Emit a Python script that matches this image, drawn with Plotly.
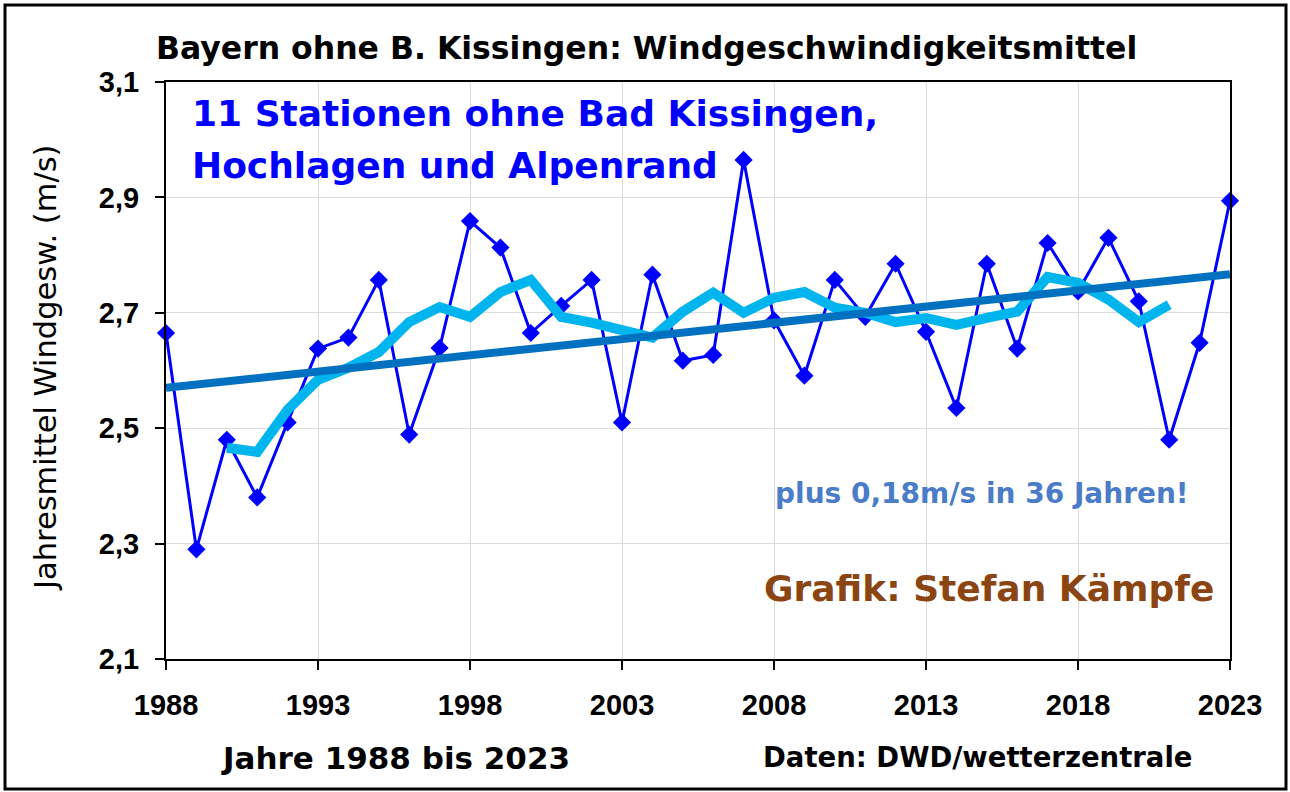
import plotly.graph_objects as go

years = list(range(1988, 2024))
wind = [2.665, 2.29, 2.48, 2.38, 2.51, 2.638, 2.657, 2.757, 2.489, 2.639,
        2.859, 2.813, 2.665, 2.712, 2.757, 2.51, 2.766, 2.617, 2.627, 2.965,
        2.687, 2.591, 2.757, 2.693, 2.785, 2.667, 2.535, 2.785, 2.638, 2.821,
        2.737, 2.83, 2.72, 2.48, 2.648, 2.894]

smooth_years = list(range(1990, 2022))
smooth = [2.466, 2.459, 2.532, 2.584, 2.605, 2.632, 2.684, 2.71, 2.693, 2.736,
          2.757, 2.693, 2.683, 2.671, 2.657, 2.702, 2.735, 2.70, 2.726, 2.736,
          2.709, 2.70, 2.684, 2.691, 2.679, 2.691, 2.702, 2.762, 2.752, 2.723,
          2.684, 2.714]

trend_years = [1988, 2023]
trend = [2.570, 2.767]

x_ticks = [1988, 1993, 1998, 2003, 2008, 2013, 2018, 2023]
y_ticks = [2.1, 2.3, 2.5, 2.7, 2.9, 3.1]

ARIAL = "Arial, Liberation Sans, sans-serif"
WIDE = "DejaVu Sans, Verdana, sans-serif"
L, R, T, B = 166, 1230, 82, 659
W, H = R - L, B - T


def px(x):
    return (x - L) / W


def py(y):
    return (B - y) / H


fig = go.Figure()
fig.add_trace(go.Scatter(x=years, y=wind, mode="lines+markers",
                         line=dict(color="#0000FF", width=3),
                         marker=dict(symbol="diamond", size=14, color="#0000FF"),
                         showlegend=False, cliponaxis=False))
fig.add_trace(go.Scatter(x=smooth_years, y=smooth, mode="lines",
                         line=dict(color="#00B4EE", width=10),
                         showlegend=False))
fig.add_trace(go.Scatter(x=trend_years, y=trend, mode="lines",
                         line=dict(color="#0070C0", width=8),
                         showlegend=False, cliponaxis=False))

tickfont = dict(size=29, family=ARIAL, weight="bold", color="black")
fig.update_layout(
    width=1290, height=792,
    margin=dict(l=L, r=1290 - R, t=T, b=792 - B),
    paper_bgcolor="white", plot_bgcolor="white",
    separators=",.",
    font=dict(family=ARIAL, color="black"),
    xaxis=dict(range=[1988, 2023], tickvals=x_ticks, ticks="outside", ticklen=9,
               tickwidth=2, tickcolor="black", showline=True, linecolor="black",
               linewidth=2, mirror=True, showgrid=True, gridcolor="#DCDCDC",
               gridwidth=1, zeroline=False, ticklabelstandoff=10,
               tickfont=tickfont),
    yaxis=dict(range=[2.1, 3.1], tickvals=y_ticks, tickformat=".1f", ticks="outside",
               ticklen=9, tickwidth=2, tickcolor="black", showline=True,
               linecolor="black", linewidth=2, mirror=True, showgrid=True,
               gridcolor="#DCDCDC", gridwidth=1, zeroline=False,
               ticklabelstandoff=10, tickfont=tickfont),
)

# outer frame
fig.add_shape(type="rect", xref="paper", yref="paper",
              x0=px(5), x1=px(1286), y0=py(789), y1=py(5),
              line=dict(color="black", width=3))

ann = [
    dict(text="Bayern ohne B. Kissingen: Windgeschwindigkeitsmittel",
         x=px(646), y=py(48), xanchor="center", yanchor="middle",
         font=dict(size=31.5, family=WIDE, color="black", weight="bold")),
    dict(text="11 Stationen ohne Bad Kissingen,",
         x=px(190), y=py(113), xanchor="left", yanchor="middle",
         font=dict(size=36, family=WIDE, color="#0000FF", weight="bold")),
    dict(text="Hochlagen und Alpenrand",
         x=px(190), y=py(165), xanchor="left", yanchor="middle",
         font=dict(size=36, family=WIDE, color="#0000FF", weight="bold")),
    dict(text="plus 0,18m/s in 36 Jahren!",
         x=px(1191), y=py(493), xanchor="right", yanchor="middle",
         font=dict(size=28, family=WIDE, color="#4A7CC8", weight="bold")),
    dict(text="Grafik: Stefan Kämpfe",
         x=px(1216), y=py(588), xanchor="right", yanchor="middle",
         font=dict(size=36, family=WIDE, color="#8B4513", weight="bold")),
    dict(text="Jahresmittel Windgesw. (m/s)", textangle=-90,
         x=px(45), y=py(368), xanchor="center", yanchor="middle",
         font=dict(size=30.5, family=WIDE, color="black")),
    dict(text="Jahre 1988 bis 2023",
         x=px(395), y=py(758), xanchor="center", yanchor="middle",
         font=dict(size=31, family=WIDE, color="black", weight="bold")),
    dict(text="Daten: DWD/wetterzentrale",
         x=px(1195), y=py(757), xanchor="right", yanchor="middle",
         font=dict(size=27.5, family=WIDE, color="black", weight="bold")),
]
for a in ann:
    a.update(xref="paper", yref="paper", showarrow=False)
    fig.add_annotation(**a)

fig.write_html("out.html", config={"displayModeBar": False},
               post_script="document.body.style.margin='0px';")
